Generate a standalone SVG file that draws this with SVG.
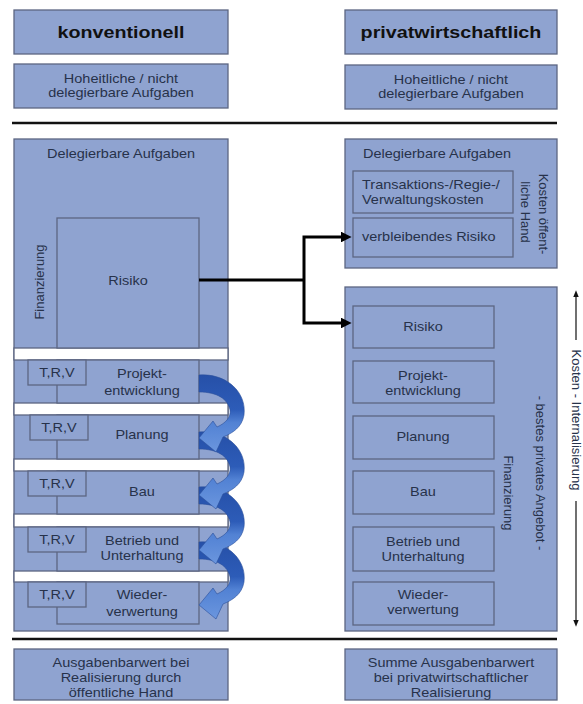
<svg xmlns="http://www.w3.org/2000/svg" width="583" height="704" viewBox="0 0 583 704">
<style>
.b{fill:#8fa3d0;stroke:#5c6682;stroke-width:1.3}
.w{fill:#ffffff;stroke:#5c6682;stroke-width:1.3}
.ln{fill:none;stroke:#5c6682;stroke-width:1.3}
.t{font-family:"Liberation Sans",Arial,sans-serif;font-size:12.5px;fill:#27324a;text-anchor:middle}
.ts{font-family:"Liberation Sans",Arial,sans-serif;font-size:12.5px;fill:#27324a;text-anchor:start}
.h{font-family:"Liberation Sans",Arial,sans-serif;font-size:17px;font-weight:bold;fill:#111;text-anchor:middle}
.v{font-family:"Liberation Sans",Arial,sans-serif;font-size:13px;fill:#27324a;text-anchor:middle}
.sep{stroke:#111;stroke-width:2.6}
.conn{fill:none;stroke:#000;stroke-width:3}
.thin{fill:none;stroke:#111;stroke-width:1.2}
</style>
<defs>
<marker id="ah" viewBox="0 0 10 10" refX="2" refY="5" markerWidth="3.6" markerHeight="3.6" orient="auto" markerUnits="strokeWidth">
<path d="M0,0 L10,5 L0,10 z" fill="#000"/>
</marker>
<marker id="ahs" viewBox="0 0 10 10" refX="2" refY="5" markerWidth="6" markerHeight="6" orient="auto-start-reverse" markerUnits="strokeWidth">
<path d="M0,1 L10,5 L0,9 z" fill="#111"/>
</marker>
<linearGradient id="cg" x1="0" y1="0" x2="0" y2="1">
<stop offset="0" stop-color="#2650a8"/>
<stop offset="0.45" stop-color="#2d5cb8"/>
<stop offset="0.62" stop-color="#5282d4"/>
<stop offset="1" stop-color="#6b96de"/>
</linearGradient>
<path id="carrow" d="M0,0 C28,-2 48,18 45,40 C43,52 34,58 24,62 L17,77 L0,63 L14,46 L18,52 C27,48 32,42 31,35 C29,24 18,17 0,17 Z" fill="url(#cg)" stroke="#2a4f9a" stroke-width="0.6"/>
</defs>
<rect width="583" height="704" fill="#fff"/>

<g id="head-konv">
<rect class="b" x="14" y="10" width="214" height="44"/>
<text class="h" transform="translate(121,38) scale(1.16,1)">konventionell</text>
</g>
<g id="head-priv">
<rect class="b" x="345" y="10" width="212" height="44"/>
<text class="h" transform="translate(451,38) scale(1.16,1)">privatwirtschaftlich</text>
</g>
<g id="hoheit-konv">
<rect class="b" x="14" y="64" width="214" height="44"/>
<text class="t" transform="translate(121,83) scale(1.16,1)">Hoheitliche / nicht<tspan x="0" dy="14.5">delegierbare Aufgaben</tspan></text>
</g>
<g id="hoheit-priv">
<rect class="b" x="345" y="65" width="212" height="44"/>
<text class="t" transform="translate(451,84) scale(1.16,1)">Hoheitliche / nicht<tspan x="0" dy="14">delegierbare Aufgaben</tspan></text>
</g>

<g id="separators">
<line class="sep" x1="12" y1="123" x2="557" y2="123"/>
<line class="sep" x1="12" y1="639" x2="557" y2="639"/>
</g>

<g id="deleg-konv">
<rect class="b" x="14" y="139" width="214" height="492"/>
<text class="t" transform="translate(121,158) scale(1.16,1)">Delegierbare Aufgaben</text>
<text class="v" transform="translate(43.5,282) rotate(-90)">Finanzierung</text>
<rect class="w" x="14" y="348" width="214" height="12"/>
<rect class="w" x="14" y="403" width="214" height="12"/>
<rect class="w" x="14" y="459" width="214" height="12"/>
<rect class="w" x="14" y="514" width="214" height="13"/>
<rect class="w" x="14" y="571" width="214" height="11"/>
</g>
<g id="risiko-konv">
<rect class="b" x="57" y="218" width="142" height="130"/>
<text class="t" transform="translate(128,285) scale(1.16,1)">Risiko</text>
</g>
<g id="proj-konv">
<rect class="b" x="57" y="360" width="142" height="43"/>
<rect class="b" x="28" y="360" width="58" height="25"/>
<text class="t" transform="translate(57,377) scale(1.16,1)">T,R,V</text>
<text class="t" transform="translate(142,378) scale(1.16,1)">Projekt-<tspan x="0" dy="17">entwicklung</tspan></text>
</g>
<g id="plan-konv">
<rect class="b" x="57" y="415" width="142" height="44"/>
<rect class="b" x="30" y="415" width="58" height="25"/>
<text class="t" transform="translate(59,432) scale(1.16,1)">T,R,V</text>
<text class="t" transform="translate(142,439) scale(1.16,1)">Planung</text>
</g>
<g id="bau-konv">
<rect class="b" x="57" y="471" width="142" height="43"/>
<rect class="b" x="28" y="471" width="58" height="25"/>
<text class="t" transform="translate(57,488) scale(1.16,1)">T,R,V</text>
<text class="t" transform="translate(142,496) scale(1.16,1)">Bau</text>
</g>
<g id="betrieb-konv">
<rect class="b" x="57" y="527" width="142" height="44"/>
<rect class="b" x="28" y="527" width="58" height="25"/>
<text class="t" transform="translate(57,544) scale(1.16,1)">T,R,V</text>
<text class="t" transform="translate(142,545) scale(1.16,1)">Betrieb und<tspan x="0" dy="15">Unterhaltung</tspan></text>
</g>
<g id="wieder-konv">
<rect class="b" x="57" y="582" width="142" height="42"/>
<rect class="b" x="28" y="582" width="58" height="25"/>
<text class="t" transform="translate(57,599) scale(1.16,1)">T,R,V</text>
<text class="t" transform="translate(142,599) scale(1.16,1)">Wieder-<tspan x="0" dy="17">verwertung</tspan></text>
</g>

<g id="deleg-priv">
<rect class="b" x="345" y="139" width="212" height="129"/>
<text class="t" transform="translate(437,158) scale(1.16,1)">Delegierbare Aufgaben</text>
<text class="v" transform="translate(538.5,214) rotate(90)">Kosten öffent-</text>
<text class="v" transform="translate(520.5,212) rotate(90)">liche Hand</text>
</g>
<g id="trans-priv">
<rect class="b" x="353" y="171" width="160" height="42"/>
<text class="ts" transform="translate(362,189) scale(1.16,1)">Transaktions-/Regie-/<tspan x="0" dy="15">Verwaltungskosten</tspan></text>
</g>
<g id="verbl-priv">
<rect class="b" x="353" y="218" width="160" height="39"/>
<text class="ts" transform="translate(362,241) scale(1.16,1)">verbleibendes Risiko</text>
</g>

<g id="privat-block">
<rect class="b" x="345" y="287" width="212" height="344"/>
<text class="v" transform="translate(535.5,473) rotate(90)">- bestes privates Angebot -</text>
<text class="v" transform="translate(503.5,493) rotate(90)">Finanzierung</text>
</g>
<g id="risiko-priv">
<rect class="b" x="353" y="306" width="141" height="42"/>
<text class="t" transform="translate(423,331) scale(1.16,1)">Risiko</text>
</g>
<g id="proj-priv">
<rect class="b" x="353" y="361" width="141" height="42"/>
<text class="t" transform="translate(423,380) scale(1.16,1)">Projekt-<tspan x="0" dy="15">entwicklung</tspan></text>
</g>
<g id="plan-priv">
<rect class="b" x="353" y="416" width="141" height="43"/>
<text class="t" transform="translate(423,441) scale(1.16,1)">Planung</text>
</g>
<g id="bau-priv">
<rect class="b" x="353" y="471" width="141" height="43"/>
<text class="t" transform="translate(423,496) scale(1.16,1)">Bau</text>
</g>
<g id="betrieb-priv">
<rect class="b" x="353" y="527" width="141" height="44"/>
<text class="t" transform="translate(423,546) scale(1.16,1)">Betrieb und<tspan x="0" dy="15">Unterhaltung</tspan></text>
</g>
<g id="wieder-priv">
<rect class="b" x="353" y="582" width="141" height="43"/>
<text class="t" transform="translate(423,599) scale(1.16,1)">Wieder-<tspan x="0" dy="15">verwertung</tspan></text>
</g>

<g id="summe-konv">
<rect class="b" x="14" y="649" width="214" height="51"/>
<text class="t" transform="translate(121,667) scale(1.16,1)">Ausgabenbarwert bei<tspan x="0" dy="15">Realisierung durch</tspan><tspan x="0" dy="15">öffentliche Hand</tspan></text>
</g>
<g id="summe-priv">
<rect class="b" x="345" y="649" width="212" height="51"/>
<text class="t" transform="translate(451,667) scale(1.16,1)">Summe Ausgabenbarwert<tspan x="0" dy="15">bei privatwirtschaftlicher</tspan><tspan x="0" dy="15">Realisierung</tspan></text>
</g>

<g id="internalisierung">
<line class="thin" x1="576" y1="296" x2="576" y2="340" marker-start="url(#ahs)"/>
<line class="thin" x1="576" y1="501" x2="576" y2="621" marker-end="url(#ahs)"/>
<text class="v" transform="translate(572,420) rotate(90)">Kosten - Internalisierung</text>
</g>

<g id="connectors">
<path class="conn" d="M199,280 H304"/>
<path class="conn" d="M304,280 V237 H343" marker-end="url(#ah)"/>
<path class="conn" d="M304,280 V323 H343" marker-end="url(#ah)"/>
<use href="#carrow" transform="translate(199,542)"/>
<use href="#carrow" transform="translate(199,487)"/>
<use href="#carrow" transform="translate(199,432)"/>
<use href="#carrow" transform="translate(199,375)"/>
</g>
</svg>
